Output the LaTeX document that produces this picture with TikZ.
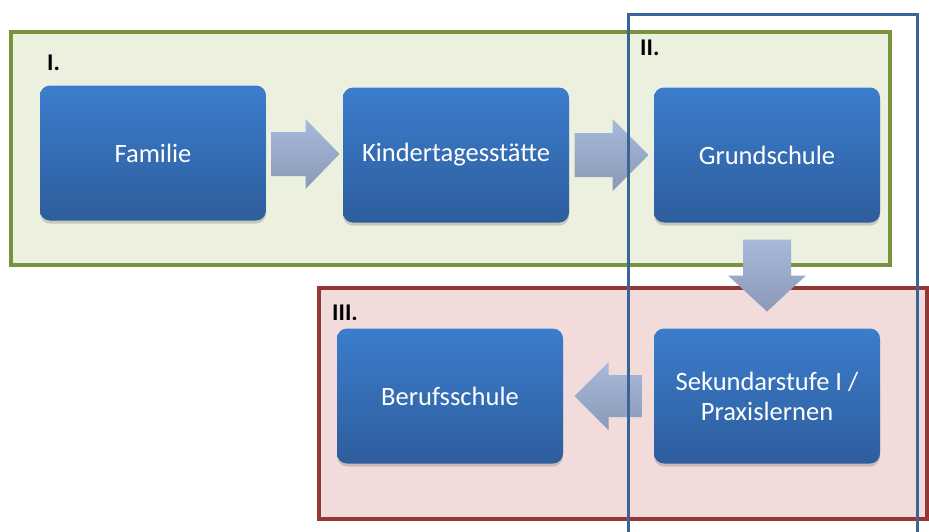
\documentclass[tikz,border=0pt]{standalone}
\usepackage{fontspec}
\setmainfont{Carlito}
\usetikzlibrary{positioning,calc,shadows}

\definecolor{boxtop}{HTML}{3B7DCD}
\definecolor{boxbot}{HTML}{2E5D9C}
\definecolor{arrtop}{HTML}{A9B9DB}
\definecolor{arrbot}{HTML}{8A99B6}
\definecolor{grpgreen}{HTML}{77933C}
\definecolor{grpgreenbg}{HTML}{EBF1DE}
\definecolor{grpred}{HTML}{953735}
\definecolor{grpredbg}{HTML}{F2DCDB}
\definecolor{grpblue}{HTML}{3A6597}

\begin{document}
\begin{tikzpicture}[x=1pt, y=-1pt,
    stage/.style={rounded corners=10pt, minimum width=226pt, minimum height=135pt,
      top color=boxtop, bottom color=boxbot, text=white, align=center,
      font=\fontsize{26.5}{30}\selectfont,
      drop shadow={shadow xshift=0pt, shadow yshift=-3pt, opacity=0.35}},
    flow/.style={top color=arrtop, bottom color=arrbot},
    grplabel/.style={anchor=north west, inner sep=0pt, font=\fontsize{24}{24}\selectfont\bfseries}]
  \useasboundingbox (0,0) rectangle (929,531);
  % group frames
  \draw[grpgreen, fill=grpgreenbg, line width=3.5pt] (11,32) rectangle (890,265);
  \draw[grpred, fill=grpredbg, line width=3.5pt] (319,288) rectangle (927,519);
  \node[grplabel] (lab1) at (47,55) {I.};
  \node[grplabel] (lab2) at (640,40) {II.};
  \node[grplabel] (lab3) at (332,305) {III.};
  % stages
  \node[stage] (fam) at (153,153) {Familie};
  \node[stage] (kita) at (456,155) {Kindertagesstätte};
  \node[stage] (grund) at (767,155) {Grundschule};
  \node[stage] (sek) at (767,396) {Sekundarstufe I /\\Praxislernen};
  \node[stage] (beruf) at (450,396) {Berufsschule};
  % block arrows between the stages
  \coordinate (a1) at ($(fam.east)!0.5!(kita.west)$);
  \coordinate (a2) at ($(kita.east)!0.5!(grund.west)$);
  \coordinate (a3) at ($(grund.south)!0.5!(sek.north)$);
  \coordinate (a4) at ($(sek.west)!0.5!(beruf.east)$);
  \shade[flow] ($(a1)+(-33,-22)$) -- ++(34,0) -- ++(0,-13) -- ++(34,35) -- ++(-34,35) -- ++(0,-13) -- ++(-34,0) -- cycle;
  \shade[flow] ($(a2)+(-37,-22)$) -- ++(38,0) -- ++(0,-14) -- ++(36,36) -- ++(-36,36) -- ++(0,-14) -- ++(-38,0) -- cycle;
  \shade[flow] ($(a3)+(-24,-36)$) -- ++(48,0) -- ++(0,36) -- ++(15,0) -- ++(-39,36) -- ++(-39,-36) -- ++(15,0) -- cycle;
  \shade[flow] ($(a4)+(34,-21)$) -- ++(-34,0) -- ++(0,-13) -- ++(-34,34) -- ++(34,34) -- ++(0,-13) -- ++(34,0) -- cycle;
  % school frame on top
  \begin{scope}
    \clip (0,0) rectangle (929,531);
    \draw[grpblue, line width=3pt] (628,14) rectangle (917,545);
  \end{scope}
\end{tikzpicture}
\end{document}
